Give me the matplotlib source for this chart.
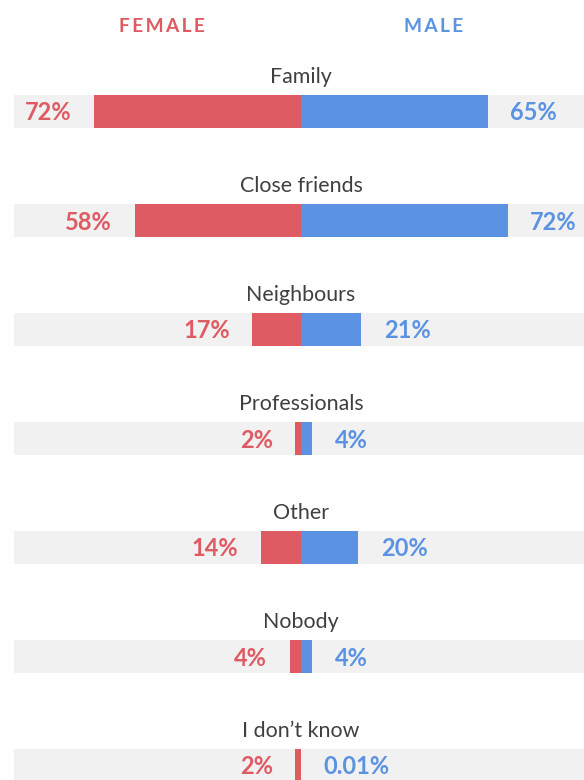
import matplotlib.pyplot as plt
from matplotlib.patches import Rectangle

# Share of respondents, by who they would turn to
categories = ["Family", "Close friends", "Neighbours", "Professionals",
              "Other", "Nobody", "I don\u2019t know"]
female = [72, 58, 17, 2, 14, 4, 2]
male = [65, 72, 21, 4, 20, 4, 0.01]
female_labels = ["72%", "58%", "17%", "2%", "14%", "4%", "2%"]
male_labels = ["65%", "72%", "21%", "4%", "20%", "4%", "0.01%"]

RED = "#DF5B63"
BLUE = "#5B93E2"
GREY = "#F1F1F1"
TEXT = "#3f3f3f"

plt.rcParams["font.family"] = ["Lato", "DejaVu Sans"]

fig = plt.figure(figsize=(5.84, 7.80), dpi=100)
ax = fig.add_axes([0, 0, 1, 1])
# x in percent, centre line at 301 px, ~2.87 px per percent
ax.set_xlim(-301 / 2.87, 283 / 2.87)
ax.set_ylim(780, 0)
ax.axis("off")

row_gap = 109
bar_top = 95
bar_h = 33
pad = 7.8

for i, cat in enumerate(categories):
    top = bar_top + i * row_gap
    mid = top + bar_h / 2
    ax.add_patch(Rectangle((-100, top), 200, bar_h, color=GREY, lw=0))
    ax.barh(mid, -female[i], height=bar_h, left=0, color=RED, lw=0)
    ax.barh(mid, male[i], height=bar_h, left=0, color=BLUE, lw=0)
    ax.text(0, top - 8, cat, ha="center", va="bottom",
            fontsize=15.4, color=TEXT)
    ax.text(-female[i] - pad, mid + 1.5, female_labels[i], ha="right",
            va="center", fontsize=17, fontweight="bold", color=RED)
    ax.text(male[i] + pad, mid + 1.5, male_labels[i], ha="left",
            va="center", fontsize=17, fontweight="bold", color=BLUE)

# column headers, letter-spaced
ax.text(-48.5, 26, "\u2009".join("FEMALE"), ha="center", va="center",
        fontsize=13.8, fontweight="bold", color=RED)
ax.text(46.3, 26, "\u2009".join("MALE"), ha="center", va="center",
        fontsize=13.8, fontweight="bold", color=BLUE)

fig.savefig("out.png", dpi=100)
